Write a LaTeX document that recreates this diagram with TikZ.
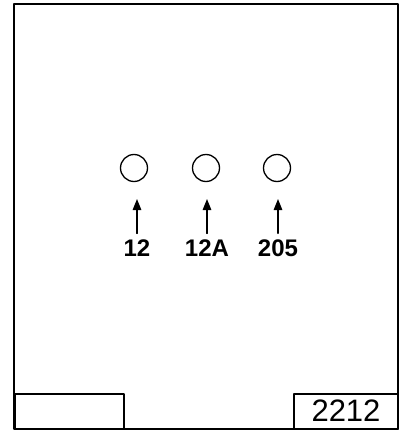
\documentclass[tikz,border=0pt]{standalone}
\usepackage{fontspec}
\setmainfont{Liberation Sans}
\usetikzlibrary{arrows.meta}
\begin{document}
\begin{tikzpicture}[x=1pt, y=-1pt, line cap=round, line join=round]
\useasboundingbox (0,0) rectangle (400,431);

\tikzset{
  hole/.style={circle, draw, line width=1.3pt, minimum size=27pt, inner sep=0pt},
  pointer/.style={line width=1.4pt, shorten <=6pt, -{Triangle[length=11pt,width=8.5pt]}},
  tag/.style={font=\fontsize{24}{26}\selectfont\bfseries, inner sep=0pt}
}

\coordinate (TL) at (14,4);
\coordinate (BR) at (398,429);

\draw[line width=1.4pt] (TL) rectangle (BR);
\draw[line width=1.2pt] (15,394) rectangle (124,429);
\draw[line width=1.2pt] (294,394) rectangle (398,429);

\node[font=\fontsize{31}{33}\selectfont, inner sep=0pt] (sheet) at (346,411) {2212};

\node[hole] (H1) at (134,168) {};
\node[hole] (H2) at (206,168) {};
\node[hole] (H3) at (277,168) {};

\node[tag] (L1) at (137,248) {12};
\node[tag] (L2) at (207,248) {12A};
\node[tag] (L3) at (278,248) {205};

\coordinate (T1) at (137,199);
\coordinate (T2) at (207,199);
\coordinate (T3) at (278,199);

\draw[pointer] (L1.north) -- (T1);
\draw[pointer] (L2.north) -- (T2);
\draw[pointer] (L3.north) -- (T3);
\end{tikzpicture}
\end{document}
